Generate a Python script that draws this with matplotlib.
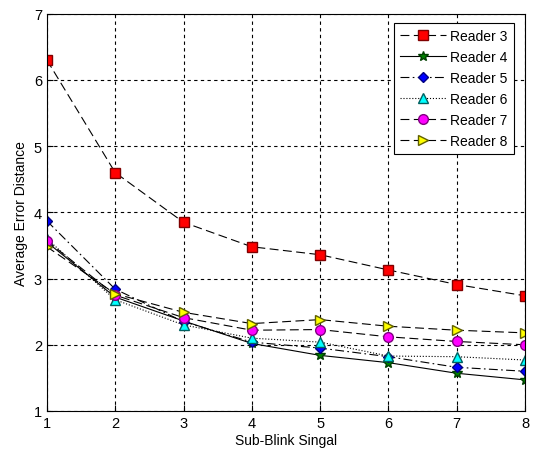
import matplotlib
matplotlib.use('Agg')
import matplotlib.pyplot as plt

plt.rcParams['font.family'] = ['Liberation Sans', 'DejaVu Sans']

x = [1, 2, 3, 4, 5, 6, 7, 8]
reader3 = [6.3, 4.6, 3.85, 3.48, 3.36, 3.13, 2.91, 2.74]
reader4 = [3.55, 2.72, 2.36, 2.02, 1.84, 1.73, 1.57, 1.47]
reader5 = [3.87, 2.84, 2.35, 2.04, 1.95, 1.82, 1.66, 1.60]
reader6 = [3.60, 2.68, 2.30, 2.10, 2.04, 1.83, 1.82, 1.77]
reader7 = [3.57, 2.75, 2.41, 2.22, 2.23, 2.12, 2.05, 2.00]
reader8 = [3.48, 2.77, 2.49, 2.32, 2.38, 2.28, 2.22, 2.18]

fig = plt.figure(figsize=(5.33, 4.52), dpi=100)
ax = fig.add_axes([0.088, 0.0885, 0.897, 0.879])

ax.plot(x, reader3, color='black', lw=0.8, dashes=(8, 4), marker='s', ms=7,
        mfc='red', mec='#800000', label='Reader 3')
ax.plot(x, reader4, color='black', lw=0.8, ls='-', marker='*', ms=7,
        mfc='green', mec='#004000', label='Reader 4')
ax.plot(x, reader5, color='black', lw=0.8, dashes=(8, 3, 1.5, 3), marker='D', ms=5.5,
        mfc='blue', mec='#000080', label='Reader 5')
ax.plot(x, reader6, color='black', lw=0.8, ls=':', marker='^', ms=7.5,
        mfc='cyan', mec='#006060', label='Reader 6')
ax.plot(x, reader7, color='black', lw=0.8, dashes=(8, 4), marker='o', ms=7,
        mfc='magenta', mec='#800080', label='Reader 7')
ax.plot(x, reader8, color='black', lw=0.8, dashes=(8, 4), marker='>', ms=7.5,
        mfc='yellow', mec='#606000', label='Reader 8')

ax.set_xlim(1, 8)
ax.set_ylim(1, 7)
ax.set_xticks(x)
ax.set_yticks([1, 2, 3, 4, 5, 6, 7])
ax.grid(True, color='black', ls=(0, (3, 3)), lw=0.8)
ax.tick_params(labelsize=10.5, direction='in', length=4)
ax.set_xlabel('Sub-Blink Singal', fontsize=10, labelpad=2)
ax.set_ylabel('Average Error Distance', fontsize=10, labelpad=4)

leg = ax.legend(loc='upper right', fontsize=10, fancybox=False, framealpha=1,
                edgecolor='black', handlelength=3.3, handletextpad=0.3,
                borderpad=0.45, labelspacing=0.5, borderaxespad=0,
                bbox_to_anchor=(0.977, 0.977))
leg.get_frame().set_linewidth(0.8)

fig.savefig('out.png', dpi=100)
